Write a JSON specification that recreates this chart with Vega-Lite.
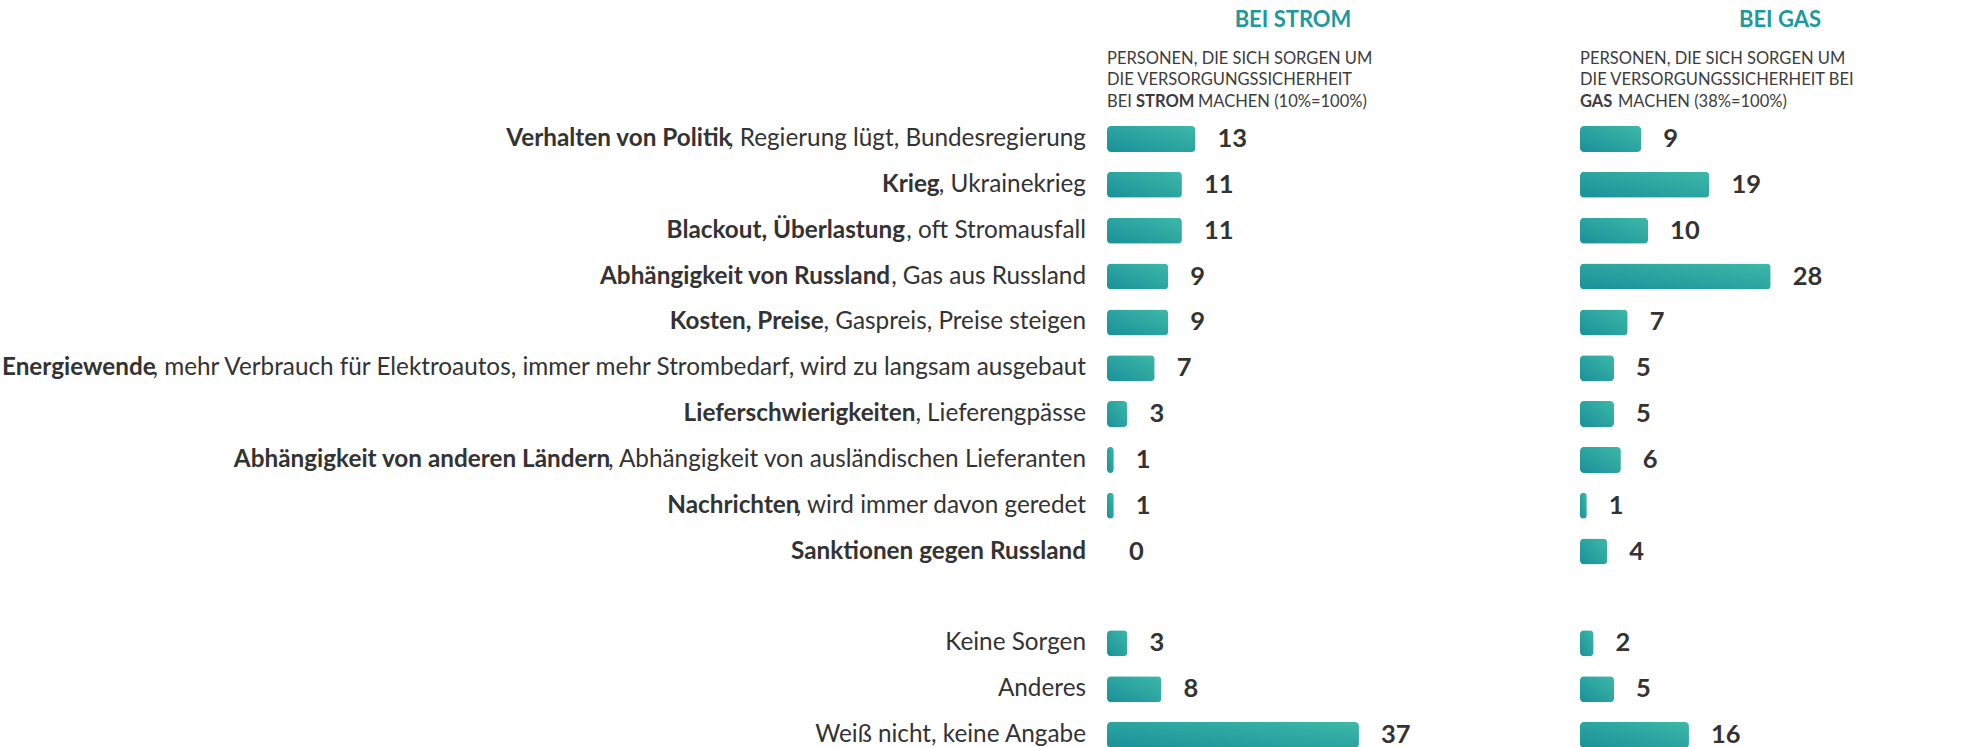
{
  "$schema": "https://vega.github.io/schema/vega-lite/v6.json",
  "background": "white",
  "padding": {"left": 1, "top": 9, "right": 0, "bottom": 0},
  "autosize": {"type": "pad"},
  "config": {"view": {"stroke": null}, "font": "Lato", "text": {"font": "Lato"}, "title": {"font": "Lato"}},
  "datasets": {
    "rows": [
      {"id": "r01", "bold": "Verhalten von Politik", "rest": ", Regierung lügt, Bundesregierung", "strom": 13, "gas": 9},
      {"id": "r02", "bold": "Krieg", "rest": ", Ukrainekrieg", "strom": 11, "gas": 19},
      {"id": "r03", "bold": "Blackout, Überlastung", "rest": ", oft Stromausfall", "strom": 11, "gas": 10},
      {"id": "r04", "bold": "Abhängigkeit von Russland", "rest": ", Gas aus Russland", "strom": 9, "gas": 28},
      {"id": "r05", "bold": "Kosten, Preise", "rest": ", Gaspreis, Preise steigen", "strom": 9, "gas": 7},
      {"id": "r06", "bold": "Energiewende", "rest": ", mehr Verbrauch für Elektroautos, immer mehr Strombedarf, wird zu langsam ausgebaut", "strom": 7, "gas": 5},
      {"id": "r07", "bold": "Lieferschwierigkeiten", "rest": ", Lieferengpässe", "strom": 3, "gas": 5},
      {"id": "r08", "bold": "Abhängigkeit von anderen Ländern", "rest": ", Abhängigkeit von ausländischen Lieferanten", "strom": 1, "gas": 6},
      {"id": "r09", "bold": "Nachrichten", "rest": ", wird immer davon geredet", "strom": 1, "gas": 1},
      {"id": "r10", "bold": "Sanktionen gegen Russland", "rest": "", "strom": 0, "gas": 4},
      {"id": "r12", "bold": "", "rest": "Keine Sorgen", "strom": 3, "gas": 2},
      {"id": "r13", "bold": "", "rest": "Anderes", "strom": 8, "gas": 5},
      {"id": "r14", "bold": "", "rest": "Weiß nicht, keine Angabe", "strom": 37, "gas": 16}
    ],
    "headers": [
      {"panel": "strom", "l1": "PERSONEN, DIE SICH SORGEN UM", "l2": "DIE VERSORGUNGSSICHERHEIT", "l3a": "BEI", "l3b": "STROM", "l3c": "MACHEN (10%=100%)"},
      {"panel": "gas", "l1": "PERSONEN, DIE SICH SORGEN UM", "l2": "DIE VERSORGUNGSSICHERHEIT BEI", "l3a": "", "l3b": "GAS", "l3c": "MACHEN (38%=100%)"}
    ]
  },
  "spacing": 101,
  "bounds": "flush",
  "hconcat": [
    {
      "width": 372,
      "height": 622,
      "title": {"text": "BEI STROM", "anchor": "middle", "frame": "group", "fontSize": 22, "fontWeight": "bold", "color": "#1e9a9d", "offset": 19},
      "encoding": {
        "y": {"field": "id", "type": "nominal", "scale": {"domain": ["r01","r02","r03","r04","r05","r06","r07","r08","r09","r10","r11","r12","r13","r14"], "paddingInner": 0.433, "paddingOuter": 0}, "axis": null}
      },
      "layer": [
        {
          "data": {"name": "rows"},
          "mark": {"type": "bar", "cornerRadius": 4, "fill": {"gradient": "linear", "x1": 0, "y1": 1, "x2": 1, "y2": 0, "stops": [{"offset": 0, "color": "#1a9099"}, {"offset": 1, "color": "#3db8a8"}]}},
          "encoding": {"x": {"field": "strom", "type": "quantitative", "scale": {"domain": [0, 54.63], "nice": false}, "axis": null}}
        },
        {
          "data": {"name": "rows"},
          "mark": {"type": "text", "align": "left", "baseline": "middle", "dx": 22, "fontSize": 25.5, "fontWeight": "bold", "color": "#333333"},
          "encoding": {"x": {"field": "strom", "type": "quantitative"}, "text": {"field": "strom", "type": "quantitative"}}
        },
        {
          "data": {"name": "rows"},
          "mark": {"type": "text", "align": "right", "baseline": "middle", "dx": -21, "fontSize": 24.3, "color": "#333333"},
          "encoding": {"x": {"datum": 0, "type": "quantitative"}, "text": {"field": "rest"}}
        },
        {
          "data": {"name": "rows"},
          "mark": {"type": "text", "align": "right", "baseline": "middle", "fontSize": 24.3, "fontWeight": "bold", "color": "#333333",
            "dx": {"expr": "-21 - 24.3*(0.52*length(datum.rest) - 0.29*(length(datum.rest)-length(replace(datum.rest, regexp('[ijl.,]','g'), ''))) - 0.26*(length(datum.rest)-length(replace(datum.rest, regexp(' ','g'), ''))) - 0.18*(length(datum.rest)-length(replace(datum.rest, regexp('[frt]','g'), ''))) + 0.27*(length(datum.rest)-length(replace(datum.rest, regexp('[mwMW]','g'), ''))) + 0.12*(length(datum.rest)-length(replace(datum.rest, regexp('[A-Z]','g'), ''))) - 0.16*(length(datum.rest)-length(replace(datum.rest, regexp('L','g'), ''))) - 0.36*(length(datum.rest)-length(replace(datum.rest, regexp('I','g'), ''))) + 0.08*(length(datum.rest)-length(replace(datum.rest, regexp('U','g'), ''))) - 0.06*(length(datum.rest)-length(replace(datum.rest, regexp('s','g'), ''))) + 0.015*(length(datum.rest)-length(replace(datum.rest, regexp('[nughdbopqäöü]','g'), ''))))"}},
          "encoding": {"x": {"datum": 0, "type": "quantitative"}, "text": {"field": "bold"}}
        },
        {
          "data": {"name": "headers"},
          "transform": [{"filter": "datum.panel == 'strom'"}],
          "mark": {"type": "text", "align": "left", "baseline": "alphabetic", "dy": -74.5, "fontSize": 16.5, "color": "#3c3c3c"},
          "encoding": {"x": {"datum": 0, "type": "quantitative"}, "y": {"datum": "r01"}, "text": {"field": "l1"}}
        },
        {
          "data": {"name": "headers"},
          "transform": [{"filter": "datum.panel == 'strom'"}],
          "mark": {"type": "text", "align": "left", "baseline": "alphabetic", "dy": -53.5, "fontSize": 16.5, "color": "#3c3c3c"},
          "encoding": {"x": {"datum": 0, "type": "quantitative"}, "y": {"datum": "r01"}, "text": {"field": "l2"}}
        },
        {
          "data": {"name": "headers"},
          "transform": [{"filter": "datum.panel == 'strom'"}],
          "mark": {"type": "text", "align": "left", "baseline": "alphabetic", "dy": -32, "fontSize": 16.5, "color": "#3c3c3c"},
          "encoding": {"x": {"datum": 0, "type": "quantitative"}, "y": {"datum": "r01"}, "text": {"field": "l3a"}}
        },
        {
          "data": {"name": "headers"},
          "transform": [{"filter": "datum.panel == 'strom'"}],
          "mark": {"type": "text", "align": "left", "baseline": "alphabetic", "dx": 29, "dy": -32, "fontSize": 16.5, "fontWeight": "bold", "color": "#3c3c3c"},
          "encoding": {"x": {"datum": 0, "type": "quantitative"}, "y": {"datum": "r01"}, "text": {"field": "l3b"}}
        },
        {
          "data": {"name": "headers"},
          "transform": [{"filter": "datum.panel == 'strom'"}],
          "mark": {"type": "text", "align": "left", "baseline": "alphabetic", "dx": 91, "dy": -32, "fontSize": 16.5, "color": "#3c3c3c"},
          "encoding": {"x": {"datum": 0, "type": "quantitative"}, "y": {"datum": "r01"}, "text": {"field": "l3c"}}
        }
      ]
    },
    {
      "width": 400,
      "height": 622,
      "title": {"text": "BEI GAS", "anchor": "middle", "frame": "group", "fontSize": 22, "fontWeight": "bold", "color": "#1e9a9d", "offset": 19},
      "encoding": {
        "y": {"field": "id", "type": "nominal", "scale": {"domain": ["r01","r02","r03","r04","r05","r06","r07","r08","r09","r10","r11","r12","r13","r14"], "paddingInner": 0.433, "paddingOuter": 0}, "axis": null}
      },
      "layer": [
        {
          "data": {"name": "rows"},
          "mark": {"type": "bar", "cornerRadius": 4, "fill": {"gradient": "linear", "x1": 0, "y1": 1, "x2": 1, "y2": 0, "stops": [{"offset": 0, "color": "#1a9099"}, {"offset": 1, "color": "#3db8a8"}]}},
          "encoding": {"x": {"field": "gas", "type": "quantitative", "scale": {"domain": [0, 58.74], "nice": false}, "axis": null}}
        },
        {
          "data": {"name": "rows"},
          "mark": {"type": "text", "align": "left", "baseline": "middle", "dx": 22, "fontSize": 25.5, "fontWeight": "bold", "color": "#333333"},
          "encoding": {"x": {"field": "gas", "type": "quantitative"}, "text": {"field": "gas", "type": "quantitative"}}
        },
        {
          "data": {"name": "headers"},
          "transform": [{"filter": "datum.panel == 'gas'"}],
          "mark": {"type": "text", "align": "left", "baseline": "alphabetic", "dy": -74.5, "fontSize": 16.5, "color": "#3c3c3c"},
          "encoding": {"x": {"datum": 0, "type": "quantitative"}, "y": {"datum": "r01"}, "text": {"field": "l1"}}
        },
        {
          "data": {"name": "headers"},
          "transform": [{"filter": "datum.panel == 'gas'"}],
          "mark": {"type": "text", "align": "left", "baseline": "alphabetic", "dy": -53.5, "fontSize": 16.5, "color": "#3c3c3c"},
          "encoding": {"x": {"datum": 0, "type": "quantitative"}, "y": {"datum": "r01"}, "text": {"field": "l2"}}
        },
        {
          "data": {"name": "headers"},
          "transform": [{"filter": "datum.panel == 'gas'"}],
          "mark": {"type": "text", "align": "left", "baseline": "alphabetic", "dy": -32, "fontSize": 16.5, "fontWeight": "bold", "color": "#3c3c3c"},
          "encoding": {"x": {"datum": 0, "type": "quantitative"}, "y": {"datum": "r01"}, "text": {"field": "l3b"}}
        },
        {
          "data": {"name": "headers"},
          "transform": [{"filter": "datum.panel == 'gas'"}],
          "mark": {"type": "text", "align": "left", "baseline": "alphabetic", "dx": 38, "dy": -32, "fontSize": 16.5, "color": "#3c3c3c"},
          "encoding": {"x": {"datum": 0, "type": "quantitative"}, "y": {"datum": "r01"}, "text": {"field": "l3c"}}
        }
      ]
    }
  ]
}
